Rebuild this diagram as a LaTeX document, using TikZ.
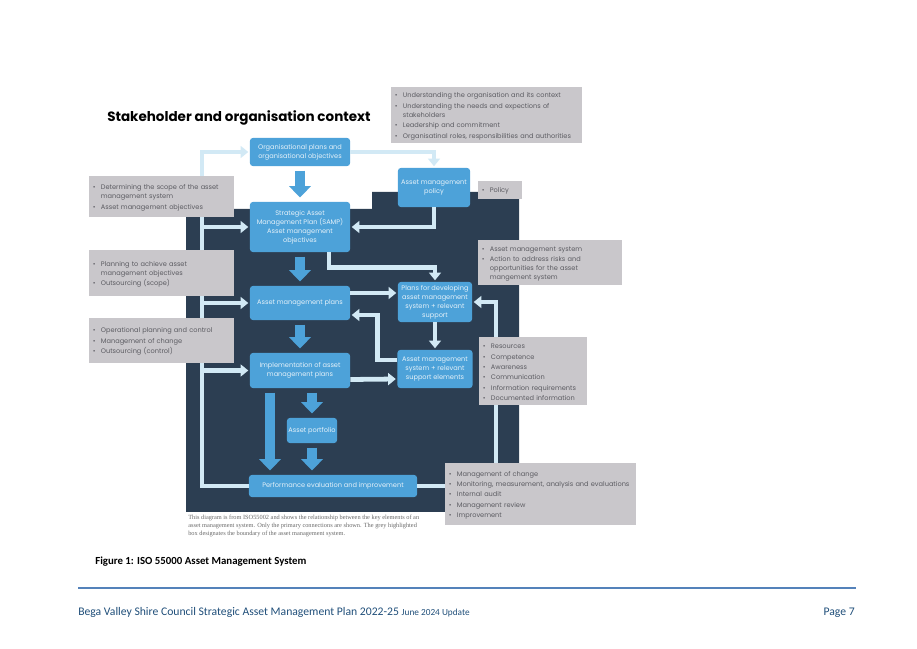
\documentclass[tikz,border=0pt]{standalone}
\usepackage{fontspec}
\usepackage{tikz}
\usetikzlibrary{arrows.meta,calc}
\newfontfamily\gothic{Poppins}
\newfontfamily\calib{Carlito}
\newfontfamily\capserif{Liberation Serif}
\definecolor{PanelDark}{RGB}{44,62,82}
\definecolor{BoxBlue}{RGB}{77,162,217}
\definecolor{PaleLink}{RGB}{210,233,245}
\definecolor{NoteGrey}{RGB}{201,199,203}
\definecolor{NoteText}{RGB}{92,92,98}
\definecolor{CapGrey}{RGB}{105,105,105}
\definecolor{FootBlue}{RGB}{31,78,121}
\definecolor{RuleBlue}{RGB}{84,130,186}
\setlength{\parindent}{0pt}
\newcommand{\boxfont}{\gothic\fontsize{4.7}{6.4}\selectfont}
\newcommand{\notefont}{\gothic\fontsize{4.7}{6.4}\selectfont}
\newcommand{\itm}[1]{\par\hangindent=1.2em\hangafter=1\makebox[1.2em][l]{\textbullet}#1\par\vspace{1pt}}
\tikzset{
  panel/.style={fill=PanelDark},
  amsbox/.style={rectangle,rounded corners=2pt,fill=BoxBlue,text=white!85!BoxBlue,
    font=\boxfont,align=center,inner sep=1pt},
  notebox/.style={rectangle,fill=NoteGrey,text=NoteText,font=\notefont,
    align=left,inner xsep=1mm,inner ysep=0.5mm},
  link/.style={draw=PaleLink,line width=3.4pt,-{Triangle[width=8.5pt,length=5.5pt]},
    shorten >=1pt},
  flow/.style={draw=BoxBlue,line width=7pt,-{Triangle[width=15pt,length=8pt]},
    shorten <=3pt,shorten >=3pt},
}

\begin{document}
\begin{tikzpicture}[x=0.025cm,y=-0.025cm]
  \useasboundingbox (0,0) rectangle (917,649);
  \node[anchor=west,inner sep=0,font=\gothic\bfseries\fontsize{9.6}{11}\selectfont]
    (title) at (107,118) {Stakeholder and organisation context};
  % boundary of the asset management system
  \fill[panel] (186,209) -- (372,209) -- (372,192) -- (519,192) -- (519,512)
    -- (186,512) -- cycle;
  % elements
  \node[amsbox,minimum width=25mm,minimum height=7mm] (org) at (300,152)
    {Organisational plans and\\organisational objectives};
  \node[amsbox,minimum width=18mm,minimum height=9.75mm] (policy) at (434,187.5)
    {Asset management\\policy};
  \node[amsbox,minimum width=25mm,minimum height=12.5mm] (samp) at (300,227)
    {Strategic Asset\\Management Plan (SAMP)\\Asset management\\objectives};
  \node[amsbox,minimum width=25mm,minimum height=8.5mm] (amp) at (300,303)
    {Asset management plans};
  \node[amsbox,minimum width=18.5mm,minimum height=10mm] (dev) at (435,302)
    {Plans for developing\\asset management\\system + relevant\\support};
  \node[amsbox,minimum width=25mm,minimum height=8.75mm] (impl) at (300,370.5)
    {Implementation of asset\\management plans};
  \node[amsbox,minimum width=18.75mm,minimum height=9.5mm] (ams) at (435,369)
    {Asset management\\system + relevant\\support elements};
  \node[amsbox,minimum width=12.5mm,minimum height=6.25mm] (port) at (312,430.5)
    {Asset portfolio};
  \node[amsbox,minimum width=42mm,minimum height=5.5mm] (perf) at (333,486)
    {Performance evaluation and improvement};
  % primary connections
  \coordinate (spine) at (202,0);
  \coordinate (rspine) at (496,0);
  \draw[link] (perf.west) -- (spine |- perf.west) -- (spine |- org.west) -- (org.west);
  \foreach \n in {samp,amp,impl}
    \draw[link] (spine |- \n.west) -- (\n.west);
  \draw[link] (perf.east) -- (rspine |- perf.east) -- (rspine |- dev.east) -- (dev.east);
  \draw[link] (org.east) -| (policy.north);
  \draw[link] (policy.south) |- (samp.east);
  \draw[link] ($(samp.south)+(29,0)$) |- ($(dev.north)+(0,-14)$) -- (dev.north);
  \draw[link] ($(amp.east)+(0,-10)$) -- ($(dev.west)+(0,-9)$);
  \draw[link] ($(ams.west)+(0,-9)$) -- ++(-20,0) |- ($(amp.east)+(0,12)$);
  \draw[link] (dev.south) -- (ams.north);
  \draw[link] ($(impl.east)+(0,9)$) -- ($(ams.west)+(0,10)$);
  \draw[flow] (org.south) -- (samp.north);
  \draw[flow] (samp.south) -- (amp.north);
  \draw[flow] (amp.south) -- (impl.north);
  \draw[flow] (impl.south -| port.north) -- (port.north);
  \draw[flow] ($(impl.south)+(-30,0)$) -- ($(impl.south |- perf.north)+(-30,0)$);
  \draw[flow] (port.south) -- (port.south |- perf.north);
  % requirements
  \node[notebox,text width=45.75mm,minimum height=14mm] (ctx) at (486.5,115) {%
    \itm{Understanding the organisation and its context}
    \itm{Understanding the needs and expections of\newline stakeholders}
    \itm{Leadership and commitment}
    \itm{Organisatinal roles, responsibilities and authorities}};
  \node[notebox,text width=9mm,minimum height=4.5mm] (pol) at (500,190) {%
    \itm{Policy}};
  \node[notebox,text width=34.25mm,minimum height=10.25mm] (scope) at (161.5,196.5) {%
    \itm{Determining the scope of the asset\newline management system}
    \itm{Asset management objectives}};
  \node[notebox,text width=34.25mm,minimum height=11.5mm] (plan) at (161.5,273) {%
    \itm{Planning to achieve asset\newline management objectives}
    \itm{Outsourcing (scope)}};
  \node[notebox,text width=34.25mm,minimum height=11.25mm] (oper) at (161.5,340.5) {%
    \itm{Operational planning and control}
    \itm{Management of change}
    \itm{Outsourcing (control)}};
  \node[notebox,text width=34mm,minimum height=11.25mm] (risk) at (550,262.5) {%
    \itm{Asset management system}
    \itm{Action to address risks and\newline opportunities for the asset\newline mangement system}};
  \node[notebox,text width=25mm,minimum height=17mm] (supp) at (533,371) {%
    \itm{Resources}
    \itm{Competence}
    \itm{Awareness}
    \itm{Communication}
    \itm{Information requirements}
    \itm{Documented information}};
  \node[notebox,text width=45.75mm,minimum height=15.5mm] (eval) at (540.5,494) {%
    \itm{Management of change}
    \itm{Monitoring, measurement, analysis and evaluations}
    \itm{Internal audit}
    \itm{Management review}
    \itm{Improvement}};
  % captions
  \node[anchor=north west,inner sep=0,align=left,text=CapGrey,
    font=\capserif\fontsize{4.5}{5.7}\selectfont] (source) at (188,515)
    {This diagram is from ISO55002 and shows the relationship between the key elements of an\\
     asset management system. Only the primary connections are shown. The grey highlighted\\
     box designates the boundary of the asset management system.};
  \node[anchor=base west,inner sep=0,font=\calib\bfseries\fontsize{7.7}{9}\selectfont]
    (fig) at (95,565) {Figure 1: ISO 55000 Asset Management System};
  % page footer
  \draw[RuleBlue,line width=0.8pt] (78,588) -- (856,588);
  \node[anchor=base west,inner sep=0,text=FootBlue,font=\calib\fontsize{8.3}{9}\selectfont]
    (foot) at (78,615.5) {Bega Valley Shire Council Strategic Asset Management Plan 2022-25
    {\fontsize{6.6}{7}\selectfont June 2024 Update}};
  \node[anchor=base east,inner sep=0,text=FootBlue,font=\calib\fontsize{8.3}{9}\selectfont]
    (page) at (855,615.5) {Page 7};
\end{tikzpicture}
\end{document}
